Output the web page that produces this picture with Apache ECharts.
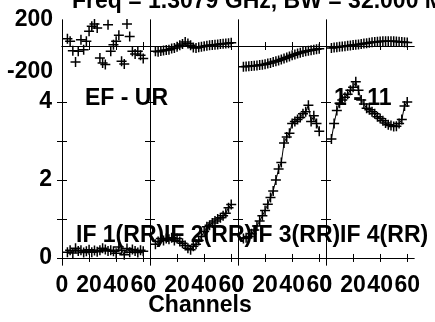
<!DOCTYPE html>
<html>
<head>
<meta charset="utf-8">
<script src="https://cdn.jsdelivr.net/npm/echarts@6/dist/echarts.min.js"></script>
<style>
  html, body { margin: 0; padding: 0; background: #fff; }
  #chart { width: 435px; height: 322px; }
</style>
</head>
<body>
<div id="chart"></div>
<script>
// channel numbers shared by all IF panels
const channels = [4, 6, 8, 10, 12, 14, 16, 18, 20, 22, 24, 26, 28, 30, 32, 34, 36, 38, 40, 42, 44, 46, 48, 50, 52, 54, 56, 58, 60];

// phase (deg), top row
const phaseIF1 = [56, 36, -36, -123, -41, 49, -28, 36, 113, 151, 169, 138, -92, -131, -143, 164, -41, 10, 36, 82, -118, -138, 169, 74, -41, -61, -41, -72, -97];
const phaseIF2 = [-40, -45, -38, -35, -30, -28, -20, -15, -5, 5, 15, 30, 20, 5, -12, -15, -10, -5, -2, 2, 5, 8, 10, 12, 15, 18, 20, 22, 25];
const phaseIF3 = [-160, -158, -156, -154, -152, -150, -147, -144, -140, -135, -130, -124, -118, -111, -104, -96, -88, -80, -72, -65, -58, -52, -46, -41, -36, -32, -28, -25, -22];
const phaseIF4 = [-15, -12, -9, -6, -4, -2, 1, 4, 7, 9, 12, 15, 19, 22, 25, 28, 31, 33, 35, 36, 37, 37, 37, 36, 35, 33, 31, 29, 27];

// amplitude, bottom row
const ampIF1 = [0.15, 0.2, 0.13, 0.25, 0.18, 0.2, 0.14, 0.17, 0.21, 0.15, 0.19, 0.16, 0.2, 0.25, 0.22, 0.18, 0.2, 0.17, 0.12, 0.28, 0.2, 0.08, 0.24, 0.15, 0.22, 0.18, 0.14, 0.2, 0.17];
const ampIF2 = [0.35, 0.42, 0.5, 0.45, 0.5, 0.48, 0.52, 0.45, 0.5, 0.42, 0.38, 0.32, 0.25, 0.21, 0.3, 0.35, 0.45, 0.55, 0.68, 0.8, 0.84, 0.9, 0.95, 1.0, 1.03, 1.08, 1.15, 1.29, 1.37];
const ampIF3 = [0.5, 0.52, 0.55, 0.62, 0.72, 0.82, 0.95, 1.08, 1.22, 1.38, 1.55, 1.72, 2.0, 2.28, 2.45, 2.95, 3.1, 3.2, 3.45, 3.5, 3.55, 3.6, 3.7, 3.75, 3.92, 3.5, 3.65, 3.45, 3.25];
const ampIF4 = [3.05, 3.45, 3.78, 3.97, 4.05, 4.12, 4.2, 4.3, 4.38, 4.52, 4.3, 4.05, 3.95, 3.84, 3.8, 3.75, 3.7, 3.62, 3.58, 3.52, 3.46, 3.42, 3.4, 3.37, 3.38, 3.45, 3.55, 3.9, 4.0];

const ifLabels = ["IF 1(RR)", "IF 2(RR)", "IF 3(RR)", "IF 4(RR)"];
const xTicks = [0, 20, 40, 60];
const phaseLabels = [-200, 200];
const ampTicks = [0, 1, 2, 3, 4];
const ampLabels = [0, 2, 4];

const phases = [phaseIF1, phaseIF2, phaseIF3, phaseIF4];
const amps = [ampIF1, ampIF2, ampIF3, ampIF4];

const FONT = "Liberation Sans";
const FS = 23;
const lefts = [62, 150, 238, 326];
const panelW = 88;

const plus = "path://M0,3.4H8V4.6H0Z M3.4,0H4.6V8H3.4Z";
const axisLine = { show: true, lineStyle: { color: "#000", width: 1 } };
const lbl = { color: "#000", fontFamily: FONT, fontWeight: "bold", fontSize: FS };

const grid = [], xAxis = [], yAxis = [], series = [];

lefts.forEach((left, i) => {
  // phase panel (top) and amplitude panel (bottom)
  [{ top: 20, height: 52, kind: "phase" }, { top: 72, height: 193, kind: "amp" }].forEach((g) => {
    const gi = grid.length;
    grid.push({ left: left, top: g.top, width: panelW, height: g.height });
    const isAmp = g.kind === "amp";

    // bottom + top x axes
    xAxis.push({
      gridIndex: gi, type: "value", min: 0, max: 65, position: "bottom",
      axisLine, splitLine: { show: false },
      axisTick: { inside: true, length: 4, lineStyle: { color: "#000" }, customValues: xTicks },
      axisLabel: isAmp ? { ...lbl, margin: 9, customValues: xTicks } : { show: false }
    });
    xAxis.push({
      gridIndex: gi, type: "value", min: 0, max: 65, position: "top",
      axisLine, splitLine: { show: false },
      axisTick: { inside: true, length: 4, lineStyle: { color: "#000" }, customValues: xTicks },
      axisLabel: { show: false }
    });

    const yBase = isAmp
      ? { min: -0.18, max: 4.77 }
      : { min: -200, max: 200 };
    const yTicks = isAmp ? ampTicks : phaseLabels;
    yAxis.push({
      gridIndex: gi, type: "value", ...yBase, position: "left",
      axisLine, splitLine: { show: false },
      axisTick: { show: isAmp, inside: true, length: 5, lineStyle: { color: "#000" }, customValues: yTicks },
      axisLabel: i === 0
        ? (isAmp
          ? { ...lbl, margin: 10, customValues: ampLabels }
          : { ...lbl, margin: 9, padding: [7, 0, 0, 0], customValues: phaseLabels })
        : { show: false }
    });
    yAxis.push({
      gridIndex: gi, type: "value", ...yBase, position: "right",
      axisLine, splitLine: { show: false },
      axisTick: { show: isAmp, inside: true, length: 5, lineStyle: { color: "#000" }, customValues: yTicks },
      axisLabel: { show: false }
    });

    const vals = isAmp ? amps[i] : phases[i];
    const s = {
      type: isAmp ? "line" : "scatter",
      xAxisIndex: gi * 2,
      yAxisIndex: gi * 2,
      data: channels.map((c, k) => [c, vals[k]]),
      symbol: plus,
      symbolSize: 10,
      itemStyle: { color: "#000", opacity: 1 },
      silent: true,
      animation: false
    };
    if (isAmp) {
      s.showAllSymbol = true;
      s.lineStyle = { color: "#000", width: 1 };
    } else {
      s.markLine = {
        silent: true, symbol: "none", label: { show: false },
        lineStyle: { color: "#000", type: "solid", width: 1 },
        data: [{ yAxis: 0 }]
      };
    }
    series.push(s);
  });
});

const txt = (x, y, text, align) => ({
  type: "text", x, y, silent: true,
  style: { text, fill: "#000", font: "bold " + FS + "px '" + FONT + "'", textAlign: align || "left", textVerticalAlign: "middle" }
});

const graphic = [
  txt(72, 2, "Freq = 1.3079 GHz, BW = 32.000 MHz"),
  txt(85, 99, "EF - UR"),
  txt(334, 99, "1 - 11"),
  txt(200, 306, "Channels", "center")
];
ifLabels.forEach((t, i) => graphic.push(txt(lefts[i] + 14, 236, t)));

const chart = echarts.init(document.getElementById("chart"));
chart.setOption({
  backgroundColor: "#fff",
  animation: false,
  grid, xAxis, yAxis, series, graphic
});
</script>
</body>
</html>
